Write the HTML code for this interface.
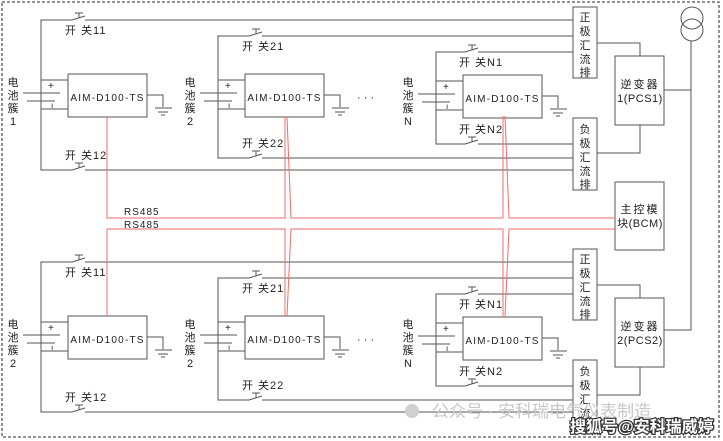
<!DOCTYPE html>
<html><head><meta charset="utf-8"><style>
html,body{margin:0;padding:0;background:#fff}
svg{display:block}
text{font-family:"Liberation Sans","Noto Sans CJK SC",sans-serif;font-size:11px;fill:#222;stroke:none}
</style></head><body>
<svg width="723" height="441" viewBox="0 0 723 441" xmlns="http://www.w3.org/2000/svg">
<defs>
<g id="clu">
 <line x1="0" y1="80" x2="27" y2="80" stroke="#555"/>
 <line x1="0" y1="109" x2="27" y2="109" stroke="#555"/>
 <line x1="-18" y1="93" x2="19" y2="93" stroke="#555"/>
 <line x1="-14" y1="101" x2="14" y2="101" stroke="#555"/>
 <text x="7" y="89" style="font-size:10px">+</text>
 <text x="10" y="108" style="font-size:8px">ı</text>
 <rect x="27" y="74" width="79" height="43" fill="#fff" stroke="#555"/>
 <text x="66.5" y="101" text-anchor="middle" style="font-size:10px;letter-spacing:1.2px">AIM-D100-TS</text>
 <polyline points="106,95 122,95 122,107" fill="none" stroke="#555"/>
 <line x1="114" y1="108" x2="131" y2="108" stroke="#555"/>
 <line x1="117" y1="112" x2="127" y2="112" stroke="#555"/>
 <line x1="120" y1="115" x2="124" y2="115" stroke="#555"/>
</g>
<g id="sw">
 <line x1="0" y1="0" x2="13" y2="-4" stroke="#555"/>
 <line x1="7" y1="-2" x2="7" y2="-7" stroke="#555"/>
 <line x1="3" y1="-7" x2="11" y2="-7" stroke="#555"/>
</g>
<g id="half" stroke="#555" fill="none">
 <polyline points="72,20 41,20 41,170 72,170"/>
 <line x1="85" y1="20" x2="573" y2="20"/>
 <line x1="85" y1="170" x2="573" y2="170"/>
 <use href="#sw" x="72" y="20"/><use href="#sw" x="72" y="170"/>
 <use href="#clu" x="41" y="0"/>
 <polyline points="249,36 218,36 218,158 249,158"/>
 <line x1="262" y1="36" x2="573" y2="36"/>
 <line x1="262" y1="158" x2="573" y2="158"/>
 <use href="#sw" x="249" y="36"/><use href="#sw" x="249" y="158"/>
 <use href="#clu" x="218" y="0"/>
 <polyline points="465,52 436,52 436,144 465,144"/>
 <line x1="478" y1="52" x2="573" y2="52"/>
 <line x1="478" y1="144" x2="573" y2="144"/>
 <use href="#sw" x="465" y="52"/><use href="#sw" x="465" y="144"/>
 <use href="#clu" x="436" y="1"/>
 <rect x="573" y="7" width="24" height="71" fill="#fff"/>
 <rect x="573" y="118" width="24" height="72" fill="#fff"/>
 <polyline points="597,43 640,43 640,56"/>
 <polyline points="640,125 640,153 597,153"/>
 <rect x="615" y="56" width="49" height="69" fill="#fff"/>
</g>
</defs>

<rect x="2" y="2" width="717" height="435" fill="none" stroke="#555" stroke-dasharray="3,2" stroke-width="1.3"/>

<use href="#half" x="0" y="0"/>
<use href="#half" x="0" y="242"/>

<g style="letter-spacing:1px">
<text x="65" y="34">开 关11</text>
<text x="242" y="50">开 关21</text>
<text x="459" y="66">开 关N1</text>
<text x="65" y="159">开 关12</text>
<text x="242" y="147">开 关22</text>
<text x="459" y="133">开 关N2</text>
<text x="65" y="276">开 关11</text>
<text x="242" y="292">开 关21</text>
<text x="459" y="308">开 关N1</text>
<text x="65" y="401">开 关12</text>
<text x="242" y="389">开 关22</text>
<text x="459" y="375">开 关N2</text>
</g>
<g text-anchor="middle" style="font-size:12px">
<text x="13" y="86">电</text><text x="13" y="99">池</text><text x="13" y="112">簇</text><text x="13" y="125">1</text>
<text x="190" y="86">电</text><text x="190" y="99">池</text><text x="190" y="112">簇</text><text x="190" y="125">2</text>
<text x="408" y="86">电</text><text x="408" y="99">池</text><text x="408" y="112">簇</text><text x="408" y="125">N</text>
<text x="13" y="328">电</text><text x="13" y="341">池</text><text x="13" y="354">簇</text><text x="13" y="367">2</text>
<text x="190" y="328">电</text><text x="190" y="341">池</text><text x="190" y="354">簇</text><text x="190" y="367">2</text>
<text x="408" y="328">电</text><text x="408" y="341">池</text><text x="408" y="354">簇</text><text x="408" y="367">N</text>
</g>
<g style="font-size:14px">
<text x="357" y="101">· · ·</text>
<text x="357" y="343">· · ·</text>
</g>

<!-- BCM & transformer -->
<rect x="615" y="182" width="49" height="68" fill="#fff" stroke="#555"/>
<circle cx="692" cy="18" r="11" fill="none" stroke="#555"/>
<circle cx="692" cy="30" r="11" fill="none" stroke="#555"/>
<polyline points="691,41 691,330 664,330" fill="none" stroke="#555"/>
<line x1="664" y1="90" x2="691" y2="90" stroke="#555"/>

<g text-anchor="middle" style="font-size:12px">
<text x="585" y="21">正</text><text x="585" y="35">极</text><text x="585" y="49">汇</text><text x="585" y="63">流</text><text x="585" y="76">排</text>
<text x="585" y="133">负</text><text x="585" y="147">极</text><text x="585" y="161">汇</text><text x="585" y="175">流</text><text x="585" y="188">排</text>
<text x="585" y="263">正</text><text x="585" y="277">极</text><text x="585" y="291">汇</text><text x="585" y="305">流</text><text x="585" y="318">排</text>
<text x="585" y="375">负</text><text x="585" y="389">极</text><text x="585" y="403">汇</text><text x="585" y="417">流</text>
<text x="640" y="88" style="letter-spacing:2px">逆变器</text><text x="640" y="102" style="font-size:11px;letter-spacing:0.5px">1(PCS1)</text>
<text x="640" y="330" style="letter-spacing:2px">逆变器</text><text x="640" y="344" style="font-size:11px;letter-spacing:0.5px">2(PCS2)</text>
<text x="640" y="213" style="letter-spacing:2px">主控模</text><text x="640" y="227" style="font-size:11px;letter-spacing:0.5px">块(BCM)</text>
</g>

<g fill="none" stroke="#f26b6b" stroke-width="1">
<polyline points="107,117 107,218 285,218 285,117"/>
<polyline points="287,117 291,218 503,218 503,116"/>
<polyline points="505,116 509,218 615,218"/>
<polyline points="107,316 107,229 285,229 285,316"/>
<polyline points="287,316 291,229 503,229 503,316"/>
<polyline points="505,316 509,229 615,229"/>
</g>
<text x="124" y="215" style="font-size:10px;letter-spacing:1px">RS485</text>
<text x="124" y="228" style="font-size:10px;letter-spacing:1px">RS485</text>

<text x="432" y="417" style="font-size:17px;fill:#c8c8c8">公众号 · 安科瑞电气仪表制造</text>
<circle cx="412" cy="411" r="7" fill="#d0d0d0"/>
<text x="570" y="432" style="font-size:16px;fill:#fff;stroke:#333;stroke-width:2.5;paint-order:stroke;font-weight:bold">搜狐号@安科瑞威婷</text>
</svg>
</body></html>
